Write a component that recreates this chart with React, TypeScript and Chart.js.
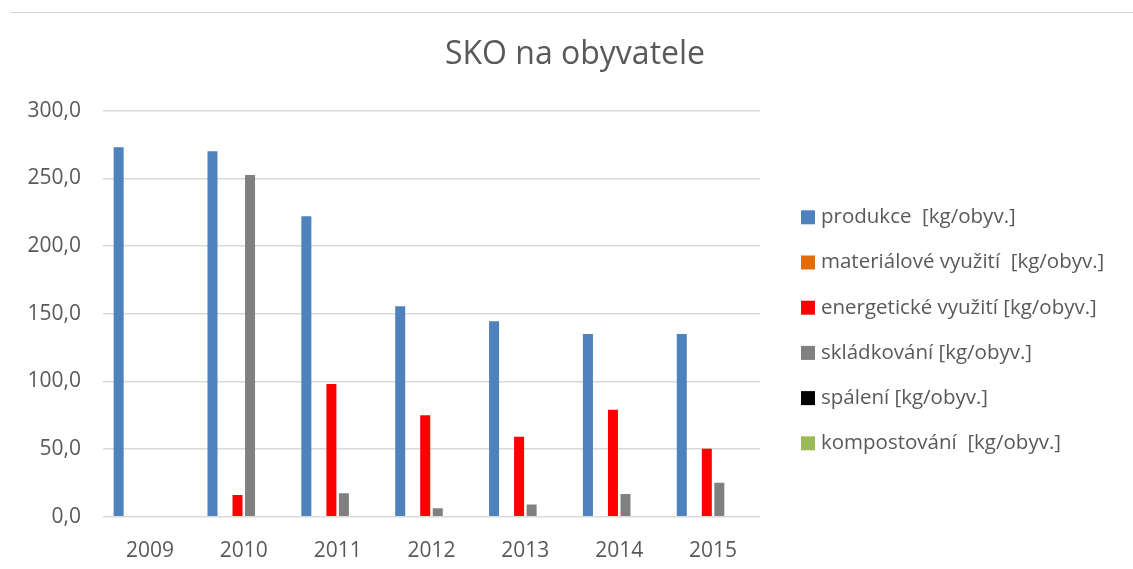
import React, { useEffect, useRef } from 'react';
import { Chart, registerables } from 'chart.js';

Chart.register(...registerables);

const years = ['2009', '2010', '2011', '2012', '2013', '2014', '2015'];
const produkce = [273.0, 270.0, 222.0, 155.5, 144.5, 135.0, 135.0];
const materialove = [0, 0, 0, 0, 0, 0, 0];
const energeticke = [0, 16.0, 98.0, 75.0, 59.0, 79.0, 50.2];
const skladkovani = [0, 252.5, 17.3, 6.2, 9.1, 16.8, 25.1];
const spaleni = [0, 0, 0, 0, 0, 0, 0];
const kompostovani = [0, 0, 0, 0, 0, 0, 0];

const seriesLabels = [
  'produkce  [kg/obyv.]',
  'materiálové využití  [kg/obyv.]',
  'energetické využití [kg/obyv.]',
  'skládkování [kg/obyv.]',
  'spálení [kg/obyv.]',
  'kompostování  [kg/obyv.]',
];
const seriesColors = ['#4F81BD', '#E46C0A', '#FF0000', '#808080', '#000000', '#9BBB59'];
const yMin = 0;
const yMax = 300;
const yStep = 50;
const titleText = 'SKO na obyvatele';

const FONT = '"Open Sans", "Noto Sans", sans-serif';
const TEXT = '#595959';

const sideLegend = {
  id: 'sideLegend',
  afterDraw(chart: any) {
    const { ctx, chartArea } = chart;
    const x0 = chartArea.right + 41;
    const box = 14;
    const gap = 45.2;
    const n = chart.data.datasets.length;
    const midY = (chartArea.top + chartArea.bottom) / 2 + 16.6;
    const firstY = midY - ((n - 1) * gap) / 2;
    ctx.save();
    ctx.font = `20.5px ${FONT}`;
    ctx.textBaseline = 'middle';
    ctx.textAlign = 'left';
    chart.data.datasets.forEach((ds: any, i: number) => {
      const cy = firstY + i * gap;
      ctx.fillStyle = ds.backgroundColor;
      ctx.fillRect(x0, cy - box / 2, box, box);
      ctx.fillStyle = TEXT;
      ctx.fillText(ds.label, x0 + box + 6, cy);
    });
    ctx.restore();
  },
};

export default function App() {
  const ref = useRef<HTMLCanvasElement | null>(null);

  useEffect(() => {
    if (!ref.current) return;
    const values = [produkce, materialove, energeticke, skladkovani, spaleni, kompostovani];
    const chart = new Chart(ref.current, {
      type: 'bar',
      data: {
        labels: years,
        datasets: values.map((d, i) => ({
          label: seriesLabels[i],
          data: d,
          backgroundColor: seriesColors[i],
          borderWidth: 0,
          categoryPercentage: 0.8,
          barPercentage: 0.8,
          yAxisID: 'y',
        })),
      },
      options: {
        animation: false,
        responsive: false,
        maintainAspectRatio: false,
        layout: { padding: { left: 17, right: 0, top: 0, bottom: 0 } },
        plugins: {
          tooltip: { enabled: false },
          legend: { display: false },
          title: {
            display: true,
            text: titleText,
            color: TEXT,
            fullSize: true,
            font: { family: FONT, size: 32, weight: 'normal', lineHeight: 1.2 },
            padding: { top: 36, bottom: 36.3 },
          },
        },
        scales: {
          x: {
            grid: { display: false },
            border: { display: false },
            ticks: { color: TEXT, font: { family: FONT, size: 21 }, padding: 14, maxRotation: 0 },
            afterFit: (s: any) => { s.height = 52.3; },
          },
          y: {
            min: yMin,
            max: yMax,
            position: 'left',
            border: { display: false },
            grid: { color: '#D9D9D9', lineWidth: 1.5, drawTicks: false },
            ticks: {
              stepSize: yStep,
              color: TEXT,
              padding: 22,
              font: { family: FONT, size: 21 },
              callback: (v: any) => Number(v).toFixed(1).replace('.', ','),
            },
            afterFit: (s: any) => { s.width = 86; },
          },
          legendSpace: {
            type: 'linear',
            position: 'right',
            display: true,
            grid: { display: false },
            border: { display: false },
            ticks: { display: false },
            afterFit: (s: any) => { s.width = 373; },
          },
        },
      },
      plugins: [sideLegend],
    });
    return () => chart.destroy();
  }, []);

  return (
    <div style={{ position: 'fixed', left: 0, top: 0, width: 1133, height: 569, background: '#fff' }}>
      <div style={{ position: 'absolute', left: 10, right: 0, top: 12, borderTop: '1px solid #D4D4D4' }} />
      <canvas ref={ref} width={1133} height={569} style={{ display: 'block' }} />
    </div>
  );
}
